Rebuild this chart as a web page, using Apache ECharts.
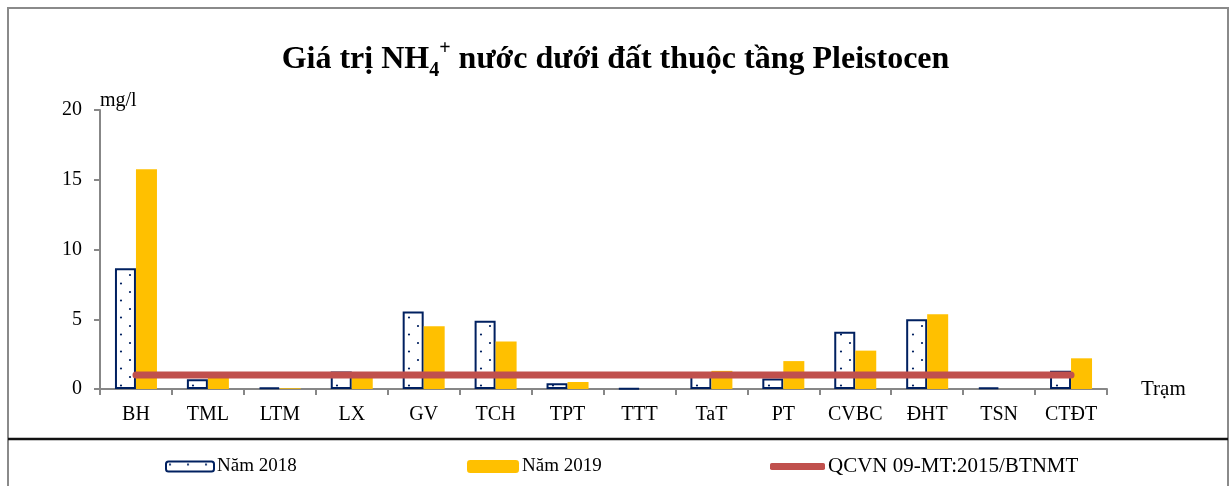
<!DOCTYPE html>
<html>
<head>
<meta charset="utf-8">
<script src="https://cdn.jsdelivr.net/npm/echarts@6/dist/echarts.min.js"></script>
<style>
  html, body { margin: 0; padding: 0; background: #fff; }
  #chart { width: 1231px; height: 486px; }
</style>
</head>
<body>
<div id="chart"></div>
<script>
// stations along the x axis
const stations = ['BH', 'TML', 'LTM', 'LX', 'GV', 'TCH', 'TPT', 'TTT', 'TaT', 'PT', 'CVBC', 'ĐHT', 'TSN', 'CTĐT'];
// NH4+ (mg/l)
const nam2018 = [8.65, 0.7, 0.1, 1.25, 5.55, 4.9, 0.42, 0.05, 1.05, 0.75, 4.1, 5.0, 0.1, 1.3];
const nam2019 = [15.75, 0.8, 0.05, 0.9, 4.5, 3.4, 0.5, 0, 1.3, 2.0, 2.75, 5.35, 0, 2.2];
// QCVN 09-MT:2015/BTNMT limit
const qcvn = [1, 1, 1, 1, 1, 1, 1, 1, 1, 1, 1, 1, 1, 1];
const yTicks = [0, 5, 10, 15, 20];

const serif = '"Liberation Serif", "DejaVu Serif", serif';
const navy = '#002060';

// dotted fill for the 2018 bars
const makeDots = () => {
  const c = document.createElement('canvas');
  c.width = 18;
  c.height = 17;
  const ctx = c.getContext('2d');
  ctx.fillStyle = '#ffffff';
  ctx.fillRect(0, 0, 18, 17);
  ctx.fillStyle = navy;
  ctx.beginPath();
  ctx.arc(4, 3, 1.1, 0, Math.PI * 2);
  ctx.arc(13, 11.5, 1.1, 0, Math.PI * 2);
  ctx.fill();
  return c;
};

const chart = echarts.init(document.getElementById('chart'), null, { renderer: 'canvas' });

const legendBase = {
  top: 457,
  padding: 0,
  itemHeight: 10,
  itemWidth: 48,
  itemGap: 0,
  textStyle: { fontFamily: serif, fontSize: 19, color: '#000', padding: [0, 0, 0, -2] },
  selectedMode: false
};

chart.setOption({
  animation: false,
  textStyle: { fontFamily: serif },
  title: {
    text: 'Giá trị NH{sub|4}{sup|+} nước dưới đất thuộc tầng Pleistocen',
    left: 'center',
    top: 34,
    textStyle: {
      fontFamily: serif,
      fontSize: 32,
      fontWeight: 'bold',
      color: '#000',
      lineHeight: 42,
      rich: {
        sub: { fontFamily: serif, fontSize: 20, fontWeight: 'bold', lineHeight: 18, verticalAlign: 'bottom', color: '#000' },
        sup: { fontFamily: serif, fontSize: 20, fontWeight: 'bold', lineHeight: 26, verticalAlign: 'top', color: '#000' }
      }
    }
  },
  graphic: [
    { type: 'rect', shape: { x: 8, y: 8, width: 1220, height: 490 }, style: { fill: 'none', stroke: '#8a8a8a', lineWidth: 2 }, silent: true },
    { type: 'line', shape: { x1: 8, y1: 439, x2: 1228, y2: 439 }, style: { stroke: '#111', lineWidth: 2.5 }, silent: true }
  ],
  legend: [
    Object.assign({}, legendBase, { left: 165, data: ['Năm 2018'] }),
    Object.assign({}, legendBase, { left: 467, itemWidth: 52, itemHeight: 13, data: ['Năm 2019'] }),
    Object.assign({}, legendBase, {
      left: 770, top: 456, itemWidth: 55, itemHeight: 7,
      textStyle: { fontFamily: serif, fontSize: 21, color: '#000', padding: [0, 0, 0, -2] },
      data: [{ name: 'QCVN 09-MT:2015/BTNMT', icon: 'roundRect' }]
    })
  ],
  grid: { left: 100, right: 124, top: 110, bottom: 97 },
  xAxis: {
    type: 'category',
    data: stations,
    name: 'Trạm',
    nameLocation: 'end',
    nameGap: 34,
    nameTextStyle: { fontFamily: serif, fontSize: 21, color: '#000', verticalAlign: 'middle', padding: [22, 0, 0, 0] },
    axisLine: { lineStyle: { color: '#878787', width: 2 } },
    axisTick: { show: true, length: 6, lineStyle: { color: '#878787', width: 2 } },
    axisLabel: { fontFamily: serif, fontSize: 20, color: '#000', margin: 16 }
  },
  yAxis: {
    type: 'value',
    min: yTicks[0],
    max: yTicks[yTicks.length - 1],
    interval: 5,
    name: 'mg/l',
    nameLocation: 'end',
    nameGap: -1,
    nameTextStyle: { fontFamily: serif, fontSize: 20, color: '#000', align: 'left', padding: [0, 0, 0, 0] },
    axisLine: { show: true, lineStyle: { color: '#878787', width: 2 } },
    axisTick: { show: true, length: 6, lineStyle: { color: '#878787', width: 2 } },
    splitLine: { show: false },
    axisLabel: { fontFamily: serif, fontSize: 20, color: '#000', margin: 18 }
  },
  series: [
    {
      name: 'Năm 2018',
      type: 'bar',
      data: nam2018,
      barWidth: 21,
      barGap: '0%',
      itemStyle: { color: { image: makeDots(), repeat: 'repeat' }, borderColor: navy, borderWidth: 2 }
    },
    {
      name: 'Năm 2019',
      type: 'bar',
      data: nam2019,
      barWidth: 21,
      itemStyle: { color: '#FFC000' }
    },
    {
      name: 'QCVN 09-MT:2015/BTNMT',
      type: 'line',
      data: qcvn,
      symbol: 'none',
      z: 5,
      itemStyle: { color: '#C0504D' },
      lineStyle: { color: '#C0504D', width: 7, cap: 'round' }
    }
  ]
});
</script>
</body>
</html>
